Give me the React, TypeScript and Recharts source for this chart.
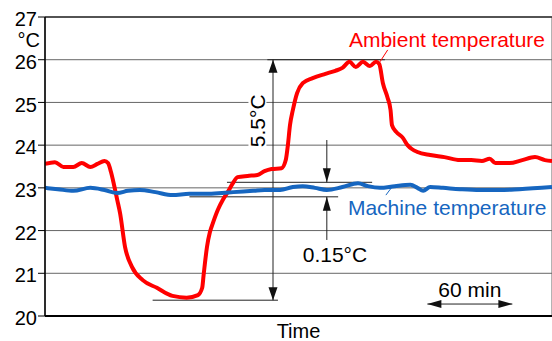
import { LineChart, Line, XAxis, YAxis, CartesianGrid, ReferenceLine, ReferenceDot } from 'recharts'

const FONT = '"Liberation Sans", Arial, Helvetica, sans-serif'
const RED = '#ff0000'
const BLUE = '#1666c0'
const INK = '#111'

// x is time in minutes (grid every 30 min), y is temperature in °C
const xTicks = [0, 30, 60, 90, 120, 150, 180, 210, 240, 270, 300, 330]
const yTicks = [20, 21, 22, 23, 24, 25, 26, 27]

const ambientTime = [
  0, 7, 13, 20, 26, 32, 37, 42, 44.5, 46.6, 48, 51, 53, 56.5, 61.4, 69, 79, 90, 100, 108,
  111, 112, 114.4, 116.5, 118.6, 122, 125.6, 129, 132.7, 136, 143, 150, 155, 160, 167, 170,
  171.5, 173, 175, 178, 182, 189, 198, 205, 210, 215, 219.5, 224.5, 229.4, 233.7, 236,
  238.6, 242, 244, 245, 248, 252.7, 256, 259, 263, 272, 282, 293, 301, 308.5, 314, 318,
  328, 337, 346, 353, 358,
]
const ambientTemp = [
  23.56, 23.6, 23.49, 23.49, 23.58, 23.49, 23.56, 23.63, 23.58, 23.37, 23.18, 22.72, 22.41,
  21.62, 21.15, 20.84, 20.66, 20.47, 20.43, 20.49, 20.66, 20.96, 21.62, 21.97, 22.18, 22.48,
  22.72, 22.9, 23.11, 23.25, 23.28, 23.3, 23.39, 23.44, 23.46, 23.65, 24.0, 24.47, 24.82,
  25.22, 25.45, 25.57, 25.67, 25.74, 25.81, 25.95, 25.83, 25.95, 25.85, 25.95, 25.9, 25.45,
  25.1, 24.82, 24.47, 24.31, 24.17, 24.0, 23.91, 23.84, 23.77, 23.72, 23.65, 23.65, 23.63,
  23.68, 23.58, 23.58, 23.65, 23.72, 23.65, 23.63,
]

const machineTime = [
  0, 9, 20, 32, 42, 51, 58.6, 67, 78, 90, 102, 114, 125, 133, 147, 155, 166, 175, 182,
  190.6, 199, 210, 221, 228, 236.5, 247, 258, 263, 267, 272, 281, 293, 307, 321, 335, 358,
]
const machineTemp = [
  23.0, 22.97, 22.93, 23.0, 22.95, 22.88, 22.93, 22.95, 22.9, 22.83, 22.86, 22.86, 22.88,
  22.9, 22.93, 22.95, 22.95, 23.02, 23.04, 23.0, 22.95, 23.02, 23.11, 23.04, 23.0, 23.04,
  23.07, 23.0, 22.93, 23.02, 23.0, 22.97, 22.95, 22.95, 22.97, 23.02,
]

const ambientData = ambientTime.map((t, i) => ({ t, v: ambientTemp[i] }))
const machineData = machineTime.map((t, i) => ({ t, v: machineTemp[i] }))

type Dir = 'up' | 'down' | 'left' | 'right'

const arrowHead = (dir: Dir, len = 13, half = 4.5) => (p: any) => {
  const { cx, cy } = p
  let d = ''
  if (dir === 'up') d = `M${cx},${cy}L${cx - half},${cy + len}L${cx + half},${cy + len}Z`
  if (dir === 'down') d = `M${cx},${cy}L${cx - half},${cy - len}L${cx + half},${cy - len}Z`
  if (dir === 'left') d = `M${cx},${cy}L${cx + len},${cy - half}L${cx + len},${cy + half}Z`
  if (dir === 'right') d = `M${cx},${cy}L${cx - len},${cy - half}L${cx - len},${cy + half}Z`
  return <path d={d} fill={INK} />
}

const textShape =
  (text: string, color: string, anchor: 'start' | 'middle' | 'end' = 'start', size = 21) =>
  (p: any) => (
    <text x={p.cx} y={p.cy} fill={color} fontSize={size} fontFamily={FONT} textAnchor={anchor}>
      {text}
    </text>
  )

const rotatedLabel = (p: any) => (
  <g>
    <rect x={p.cx - 9} y={p.cy - 29} width={18} height={58} fill="#fff" />
    <text
      x={p.cx}
      y={p.cy}
      dy="0.36em"
      fill="#000"
      fontSize={21}
      fontFamily={FONT}
      textAnchor="middle"
      transform={`rotate(-90 ${p.cx} ${p.cy})`}
    >
      5.5°C
    </text>
  </g>
)

export default function App() {
  return (
    <div style={{ position: 'absolute', left: 0, top: 0, background: '#fff' }}>
      <LineChart width={552} height={341} margin={{ top: 17, right: 0, bottom: 0, left: 0 }}>
        <CartesianGrid stroke="#666" strokeWidth={1} />
        <XAxis
          type="number"
          dataKey="t"
          domain={[0, 358]}
          allowDataOverflow
          ticks={xTicks}
          tick={false}
          tickLine={false}
          height={25}
          axisLine={{ stroke: '#000', strokeWidth: 2 }}
          label={{ value: 'Time', position: 'insideBottom', offset: 3, fill: '#000', fontSize: 20, fontFamily: FONT }}
        />
        <YAxis
          type="number"
          domain={[20, 27]}
          ticks={yTicks}
          width={45}
          tickSize={7}
          tickMargin={1}
          axisLine={{ stroke: '#000', strokeWidth: 1.5 }}
          tickLine={{ stroke: '#000' }}
          tick={{ fill: '#000', fontSize: 20, fontFamily: FONT, dy: 2 }}
        />
        <ReferenceLine y={27} stroke="#333" strokeWidth={1.5} />

        {/* 5.5°C bracket */}
        <ReferenceLine segment={[{ x: 157, y: 26 }, { x: 240, y: 26 }]} stroke="#222" />
        <ReferenceLine segment={[{ x: 76, y: 20.37 }, { x: 164.5, y: 20.37 }]} stroke="#222" />
        <ReferenceLine segment={[{ x: 161, y: 20.37 }, { x: 161, y: 26 }]} stroke="#222" />
        <ReferenceDot x={161} y={26} shape={arrowHead('up')} />
        <ReferenceDot x={161} y={20.37} shape={arrowHead('down')} />
        <ReferenceDot x={150} y={24.57} shape={rotatedLabel} />

        {/* 0.15°C bracket */}
        <ReferenceLine segment={[{ x: 128.5, y: 23.13 }, { x: 231, y: 23.13 }]} stroke="#222" />
        <ReferenceLine segment={[{ x: 102, y: 22.79 }, { x: 207, y: 22.79 }]} stroke="#222" />
        <ReferenceLine segment={[{ x: 199, y: 24.12 }, { x: 199, y: 23.13 }]} stroke="#222" />
        <ReferenceLine segment={[{ x: 199, y: 22.79 }, { x: 199, y: 21.78 }]} stroke="#222" />
        <ReferenceDot x={199} y={23.13} shape={arrowHead('down', 14, 4)} />
        <ReferenceDot x={199} y={22.79} shape={arrowHead('up', 14, 4)} />
        <ReferenceDot x={182} y={21.27} shape={textShape('0.15°C', '#000')} />

        {/* 60 min scale */}
        <ReferenceLine segment={[{ x: 270, y: 20.28 }, { x: 330, y: 20.28 }]} stroke="#222" />
        <ReferenceDot x={270} y={20.28} shape={arrowHead('left', 14, 4)} />
        <ReferenceDot x={330} y={20.28} shape={arrowHead('right', 14, 4)} />
        <ReferenceDot x={300} y={20.45} shape={textShape('60 min', '#000', 'middle')} />

        <Line
          data={ambientData}
          dataKey="v"
          type="monotone"
          stroke={RED}
          strokeWidth={4}
          dot={false}
          strokeLinejoin="round"
          isAnimationActive={false}
        />
        <Line
          data={machineData}
          dataKey="v"
          type="monotone"
          stroke={BLUE}
          strokeWidth={4}
          dot={false}
          strokeLinejoin="round"
          isAnimationActive={false}
        />

        {/* series labels with leader lines */}
        <ReferenceLine segment={[{ x: 242, y: 26.23 }, { x: 236.5, y: 25.95 }]} stroke={RED} />
        <ReferenceDot x={214.6} y={26.3} shape={textShape('Ambient temperature', RED)} />
        <ReferenceLine segment={[{ x: 245, y: 23.02 }, { x: 240.7, y: 22.83 }]} stroke={BLUE} />
        <ReferenceDot x={213.9} y={22.36} shape={textShape('Machine temperature', BLUE)} />
        <ReferenceDot x={0} y={26.3} ifOverflow="visible" shape={(p: any) => (
          <text x={p.cx - 5} y={p.cy} fill="#000" fontSize={20} fontFamily={FONT} textAnchor="end">°C</text>
        )} />
      </LineChart>
    </div>
  )
}
